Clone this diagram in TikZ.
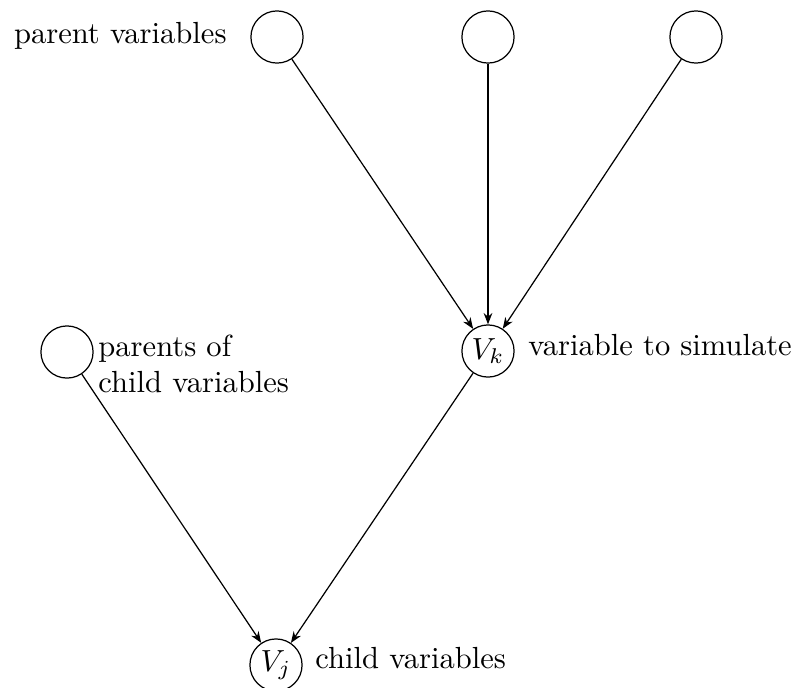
\documentclass[tikz,border=0pt]{standalone}
\usepackage{amsmath,amssymb}
\usepackage{tikz}
\usetikzlibrary{arrows.meta,positioning,calc}

\begin{document}
\begin{tikzpicture}[
        x=0.0115cm, y=-0.0115cm,
        var/.style={draw, circle, minimum size=0.6cm, inner sep=0pt},
        lab/.style={font=\normalsize},
        arr/.style={-{Stealth[length=1.3mm, width=1mm]}}
    ]
        \useasboundingbox (0,0) rectangle (800,687);

        \node[var] (pa) at (277,37) {};
        \node[var] (pb) at (488,37) {};
        \node[var] (pc) at (696,37) {};
        \node[var] (vk) at (488,351) {$V_k$};
        \node[var] (cp) at (67,352) {};
        \node[var] (vj) at (276,665) {$V_j$};

        \node[lab, anchor=base east] (lpar) at ($(pa.west)+(-13,6)$) {parent variables};
        \node[lab, anchor=base west] (lsim) at ($(vk.east)+(3,4)$) {variable to simulate};
        \node[lab, anchor=north west, align=left] (lcp) at ($(cp.east)+(-6,-28)$) {parents of\\child variables};
        \node[lab, anchor=base west] (lchild) at ($(vj.east)+(2,3)$) {child variables};

        \draw[arr] (pa) -- (vk);
        \draw[arr] (pb) -- (vk);
        \draw[arr] (pc) -- (vk);
        \draw[arr] (vk) -- (vj);
        \draw[arr] (cp) -- (vj);
    \end{tikzpicture}
\end{document}
